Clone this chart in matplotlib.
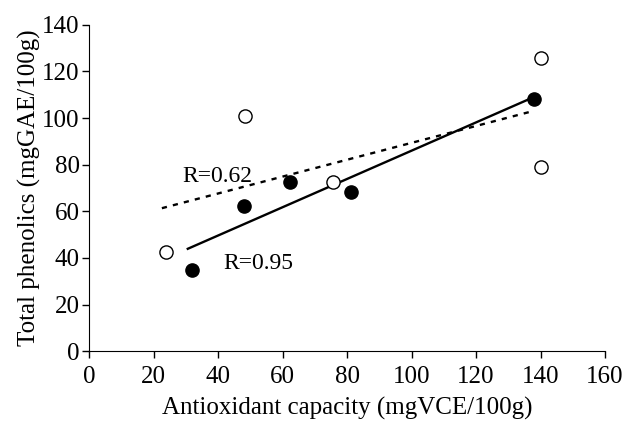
import numpy as np
import matplotlib
matplotlib.use("Agg")
import matplotlib.pyplot as plt

# filled circles (R=0.95)
x_filled = [31.8, 48.1, 62.3, 81.2, 137.9]
y_filled = [34.8, 62.3, 72.7, 68.1, 108.1]
# open circles (R=0.62)
x_open = [23.8, 48.4, 75.5, 140.0, 140.0]
y_open = [42.4, 100.8, 72.7, 125.7, 79.1]
# x span of the trend lines
span_filled = [30.2, 137.9]
span_open = [22.5, 137.9]

x_ticks = [0, 20, 40, 60, 80, 100, 120, 140, 160]
y_ticks = [0, 20, 40, 60, 80, 100, 120, 140]

plt.rcParams['font.family'] = ['Liberation Serif', 'DejaVu Serif']
plt.rcParams['font.size'] = 18

fig = plt.figure(figsize=(6.25, 4.21), dpi=100)
ax = fig.add_axes([0.143, 0.166, 0.825, 0.775])

# trend lines from a linear fit
k1, b1 = np.polyfit(x_filled, y_filled, 1)
xs = np.array(span_filled)
ax.plot(xs, k1 * xs + b1, color='black', lw=1.7, solid_capstyle='butt')

k2, b2 = np.polyfit(x_open, y_open, 1)
xs = np.array(span_open)
ax.plot(xs, k2 * xs + b2, color='black', lw=1.7, linestyle=(0, (2.2, 2.6)))

ax.plot(x_filled, y_filled, 'o', ms=9.5, mfc='black', mec='black', mew=1, zorder=3)
ax.plot(x_open, y_open, 'o', ms=9.5, mfc='white', mec='black', mew=1, zorder=3)

ax.text(28.7, 75, 'R=0.62', ha='left', va='center', fontsize=17)
ax.text(41.6, 37.5, 'R=0.95', ha='left', va='center', fontsize=17)

ax.set_xlim(0, 160)
ax.set_ylim(0, 140)
ax.set_xticks(x_ticks)
ax.set_yticks(y_ticks)
ax.spines['top'].set_visible(False)
ax.spines['right'].set_visible(False)
ax.tick_params(direction='out', length=5, width=1)
ax.tick_params(axis='x', pad=6)
ax.tick_params(axis='y', pad=2)
ax.set_xlabel('Antioxidant capacity (mgVCE/100g)', labelpad=6)
ax.set_ylabel('Total phenolics (mgGAE/100g)', labelpad=1)

fig.savefig('out.png', dpi=100)
